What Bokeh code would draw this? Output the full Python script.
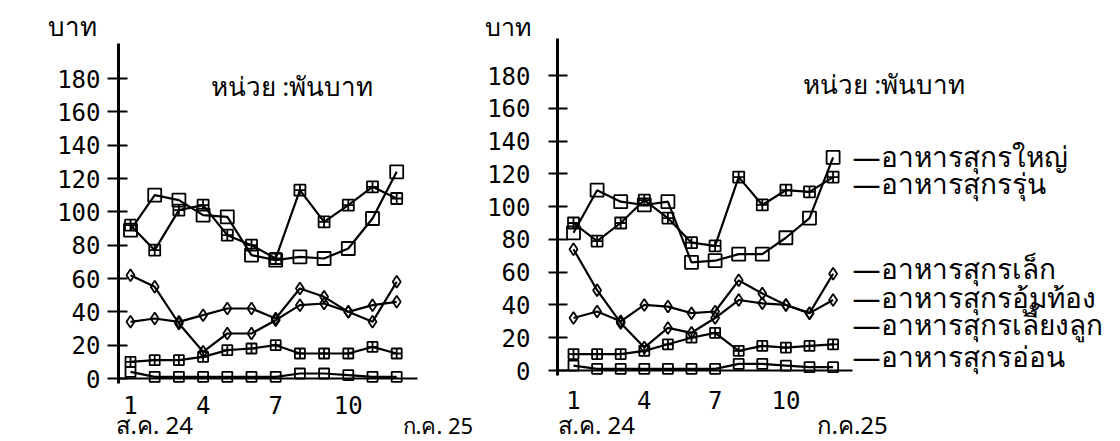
from bokeh.plotting import figure
from bokeh.layouts import row
from bokeh.models import FixedTicker, Label, Range1d
from bokeh.embed import file_html
from bokeh.resources import INLINE

# ---------------- data ----------------
months = list(range(1, 13))
y_ticks = [0, 20, 40, 60, 80, 100, 120, 140, 160, 180]
x_ticks = [1, 4, 7, 10]

names = ["อาหารสุกรใหญ่", "อาหารสุกรรุ่น", "อาหารสุกรเล็ก",
         "อาหารสุกรอุ้มท้อง", "อาหารสุกรเลี้ยงลูก", "อาหารสุกรอ่อน"]

# left panel (thousand baht)
left_large    = [89, 110, 107, 98, 97, 74, 71, 73, 72, 78, 96, 124]
left_grower   = [92, 77, 101, 104, 86, 80, 72, 113, 94, 104, 115, 108]
left_small    = [34, 36, 34, 38, 42, 42, 36, 54, 49, 40, 34, 58]
left_pregnant = [62, 55, 33, 16, 27, 27, 35, 44, 45, 40, 44, 46]
left_nursing  = [10, 11, 11, 13, 17, 18, 20, 15, 15, 15, 19, 15]
left_weaner   = [4, 1, 1, 1, 1, 1, 1, 3, 3, 2, 1, 1]

# right panel (thousand baht)
right_large    = [84, 110, 103, 101, 103, 66, 67, 71, 71, 81, 93, 130]
right_grower   = [90, 79, 90, 104, 93, 78, 76, 118, 101, 110, 109, 118]
right_small    = [32, 36, 30, 40, 39, 35, 36, 55, 47, 40, 35, 59]
right_pregnant = [74, 49, 29, 14, 26, 23, 32, 43, 41, 40, 35, 43]
right_nursing  = [10, 10, 10, 12, 16, 20, 23, 12, 15, 14, 15, 16]
right_weaner   = [3, 1, 1, 1, 1, 1, 1, 4, 4, 3, 2, 2]

y_unit = "บาท"
unit_note = "หน่วย :พันบาท"
start_label = "ส.ค. 24"
end_label_left = "ก.ค. 25"
end_label_right = "ก.ค.25"

# ---------------- styles ----------------
MONO = "DejaVu Sans Mono"
THAI = "Noto Sans"
styles = [
    dict(marker="square", size=13),
    dict(marker="square_cross", size=11),
    dict(marker="diamond", size=12),
    dict(marker="diamond", size=12),
    dict(marker="square_cross", size=10),
    dict(marker="square", size=10),
]


def make_panel(width, height, px_month, x1_px, x_axis_px, x_end_px,
               px_unit, y0_px, y_top_px, y_bot_px, series,
               tick_in, tick_out, ystand, xstand):
    """Frame fills the whole canvas; axes are placed at fixed data locations."""
    xs = 1 - x1_px / px_month
    xe = xs + width / px_month
    ye = y0_px / px_unit
    ys = -(height - y0_px) / px_unit

    def to_data(fx, fy):
        return xs + fx / px_month, ye - fy / px_unit

    ax_x, _ = to_data(x_axis_px, 0)
    right_x, _ = to_data(x_end_px, 0)
    _, top_y = to_data(0, y_top_px)
    _, bot_y = to_data(0, y_bot_px)

    p = figure(width=width, height=height, x_range=Range1d(xs, xe), y_range=Range1d(ys, ye),
               output_backend="svg", toolbar_location=None, title=None, min_border=0)
    p.outline_line_color = None
    p.grid.visible = False
    p.background_fill_color = "white"
    p.border_fill_color = "white"

    ya = p.yaxis[0]
    ya.fixed_location = ax_x
    ya.bounds = (bot_y, top_y)
    ya.ticker = FixedTicker(ticks=y_ticks)
    ya.axis_line_width = 3
    ya.axis_line_color = "black"
    ya.major_tick_in = tick_in
    ya.major_tick_out = tick_out
    ya.major_tick_line_width = 2
    ya.minor_tick_line_color = None
    ya.major_label_standoff = ystand
    ya.major_label_text_font = MONO
    ya.major_label_text_font_size = "24px"
    ya.major_label_text_color = "black"

    xa = p.xaxis[0]
    xa.fixed_location = 0
    xa.bounds = (ax_x, right_x)
    xa.ticker = FixedTicker(ticks=x_ticks)
    xa.axis_line_width = 2
    xa.axis_line_color = "black"
    xa.major_tick_line_color = None
    xa.minor_tick_line_color = None
    xa.major_tick_in = 0
    xa.major_tick_out = 0
    xa.major_label_standoff = xstand
    xa.major_label_text_font = MONO
    xa.major_label_text_font_size = "24px"
    xa.major_label_text_color = "black"

    for vals, st in zip(series, styles):
        p.line(months, vals, line_color="black", line_width=2.2)
        p.scatter(months, vals, marker=st["marker"], size=st["size"],
                  fill_color="white", fill_alpha=0.0, line_color="black", line_width=1.8)

    def lab(fx, fy, text, size="20px", align="left", baseline="middle", font=THAI):
        x, y = to_data(fx, fy)
        p.add_layout(Label(x=x, y=y, text=text, text_font=font, text_font_size=size,
                           text_align=align, text_baseline=baseline, text_color="black"))
    return p, lab


# ---------------- left panel ----------------
pl, lab_l = make_panel(480, 441, px_month=24.2, x1_px=130, x_axis_px=118, x_end_px=417,
                       px_unit=300 / 180, y0_px=378, y_top_px=43, y_bot_px=383,
                       series=[left_large, left_grower, left_small, left_pregnant,
                               left_nursing, left_weaner],
                       tick_in=9, tick_out=11, ystand=7, xstand=17)
lab_l(72, 25, y_unit, size="26px", align="center")
lab_l(210, 85, unit_note, size="26px")
lab_l(115, 424, start_label, size="24px")
lab_l(402, 424, end_label_left, size="22px")

# ---------------- right panel (canvas starts at x = 480) ----------------
pr, lab_r = make_panel(640, 441, px_month=23.6, x1_px=93, x_axis_px=77, x_end_px=372,
                       px_unit=295 / 180, y0_px=370, y_top_px=38, y_bot_px=375,
                       series=[right_large, right_grower, right_small, right_pregnant,
                               right_nursing, right_weaner],
                       tick_in=10, tick_out=9, ystand=18, xstand=20)
lab_r(4, 25, y_unit, size="25px", align="left")
lab_r(322, 83, unit_note, size="26px")
lab_r(77, 424, start_label, size="24px")
lab_r(336, 424, end_label_right, size="24px")
legend_y = [155, 182, 267, 296, 323, 355]
for name, fy in zip(names, legend_y):
    lab_r(372, fy, "—" + name, size="28px")

layout = row(pl, pr)
open("out.html", "w").write(file_html(layout, INLINE))
